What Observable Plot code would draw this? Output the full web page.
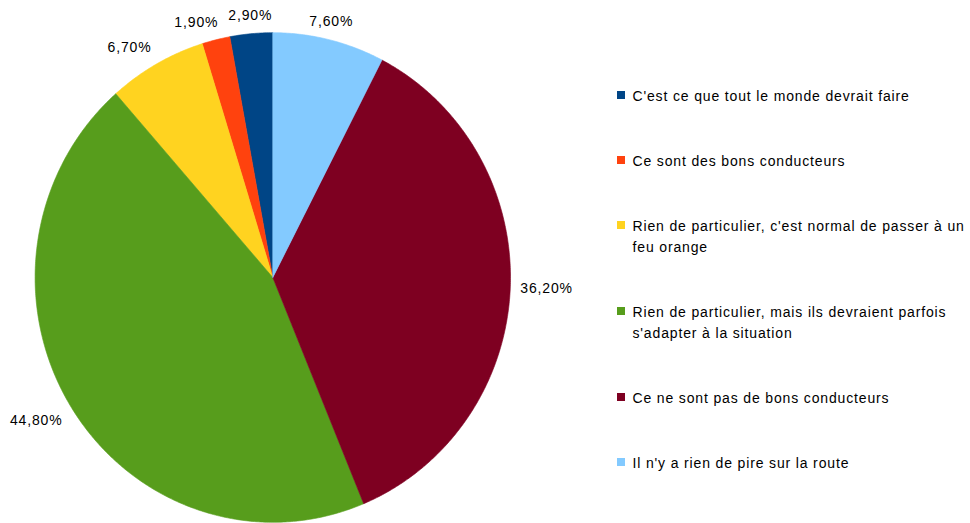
<!DOCTYPE html>
<html><head><meta charset="utf-8">
<script src="https://cdn.jsdelivr.net/npm/d3@7"></script>
<script src="https://cdn.jsdelivr.net/npm/@observablehq/plot@0.6"></script>
<style>
body{margin:0;background:#fff;}
svg text{letter-spacing:0.85px;}
</style>
</head><body>
<div id="chart"></div>
<script>
const categories = [
  "C'est ce que tout le monde devrait faire",
  "Ce sont des bons conducteurs",
  "Rien de particulier, c'est normal de passer à un\nfeu orange",
  "Rien de particulier, mais ils devraient parfois\ns'adapter à la situation",
  "Ce ne sont pas de bons conducteurs",
  "Il n'y a rien de pire sur la route"
];
const values = [2.9, 1.9, 6.7, 44.8, 36.2, 7.6];
const colors = ["#004586", "#ff420e", "#ffd320", "#579d1c", "#7e0021", "#83caff"];

// layout
const W = 970, Hh = 523;
const CX = 272.3, CY = 277, RX = 237.7, RY = 244.8;
const GAP = 10, LBLH = 16, LS = 0.85;
const LX = 617, LTX = 632, LY0 = 95, LINE = 21, ITEMGAP = 44;

const fmt = v => v.toFixed(2).replace(".", ",") + "%";
const ctx = document.createElement("canvas").getContext("2d");
ctx.font = "14px 'Liberation Sans', Arial, sans-serif";
const measure = t => ctx.measureText(t).width + LS * t.length;

// slices: data order, counter-clockwise from 12 o'clock
const total = d3.sum(values);
let cum = 0;
const slices = values.map((v, i) => {
  const a1 = 2 * Math.PI * (1 - cum / total);
  cum += v;
  const a0 = 2 * Math.PI * (1 - cum / total);
  return {i, a0, a1, mid: (a0 + a1) / 2};
});
const pt = (a, rx, ry) => [CX + rx * Math.sin(a), CY - ry * Math.cos(a)];
const piePts = [];
for (const s of slices) {
  const n = Math.max(2, Math.ceil((s.a1 - s.a0) / (Math.PI / 360)) + 1);
  piePts.push({k: s.i, x: CX, y: CY, c: colors[s.i]});
  for (let j = 0; j < n; j++) {
    const a = s.a0 + (s.a1 - s.a0) * j / (n - 1);
    const [x, y] = pt(a, RX, RY);
    piePts.push({k: s.i, x, y, c: colors[s.i]});
  }
  piePts.push({k: s.i, x: CX, y: CY, c: colors[s.i]});
}

// labels
const labels = slices.map(s => {
  const sin = Math.sin(s.mid), cos = Math.cos(s.mid);
  const [px, py] = pt(s.mid, RX + GAP, RY + GAP);
  const t = fmt(values[s.i]);
  const w = measure(t);
  const x = Math.abs(sin) < 0.3 ? px : sin > 0 ? px + w / 2 : px - w / 2;
  const y = Math.abs(cos) < 0.3 ? py : cos > 0 ? py - LBLH / 2 : py + LBLH / 2;
  return {t, w, x, y};
});
// simple overlap resolution for labels above the pie
const upper = labels.filter(d => d.y < CY).sort((a, b) => b.x - a.x);
for (let j = 1; j < upper.length; j++) {
  const p = upper[j - 1], d = upper[j];
  if (Math.abs(p.y - d.y) < LBLH && d.x + d.w / 2 > p.x - p.w / 2 - 10) {
    d.x = p.x - p.w / 2 - 10 - d.w / 2;
  }
}

// legend
const legendItems = [], legendLines = [];
let ly = LY0;
categories.forEach((c, i) => {
  const lines = c.split("\n");
  legendItems.push({y: ly, c: colors[i]});
  lines.forEach((l, j) => legendLines.push({t: l, y: ly + 1 + j * LINE}));
  ly += lines.length * LINE + ITEMGAP;
});

const chart = Plot.plot({
  width: W, height: Hh, margin: 0,
  style: {fontFamily: "'Liberation Sans', Arial, sans-serif", fontSize: "14px", background: "#fff", color: "#000"},
  x: {domain: [0, W], range: [0, W], axis: null},
  y: {domain: [0, Hh], range: [0, Hh], axis: null},
  color: {type: "identity"},
  marks: [
    Plot.line(piePts, {x: "x", y: "y", z: "k", fill: "c", stroke: "c", strokeWidth: 0.6, curve: "linear"}),
    Plot.text(labels, {x: "x", y: "y", text: "t", textAnchor: "middle", lineAnchor: "middle", fontSize: 14, fill: "#000"}),
    Plot.rect(legendItems, {x1: () => LX, x2: () => LX + 8, y1: d => d.y - 4, y2: d => d.y + 4, fill: "c"}),
    Plot.text(legendLines, {x: () => LTX, y: "y", text: "t", textAnchor: "start", lineAnchor: "middle", fontSize: 14, fill: "#000"})
  ]
});
document.getElementById("chart").appendChild(chart);
</script>
</body></html>
